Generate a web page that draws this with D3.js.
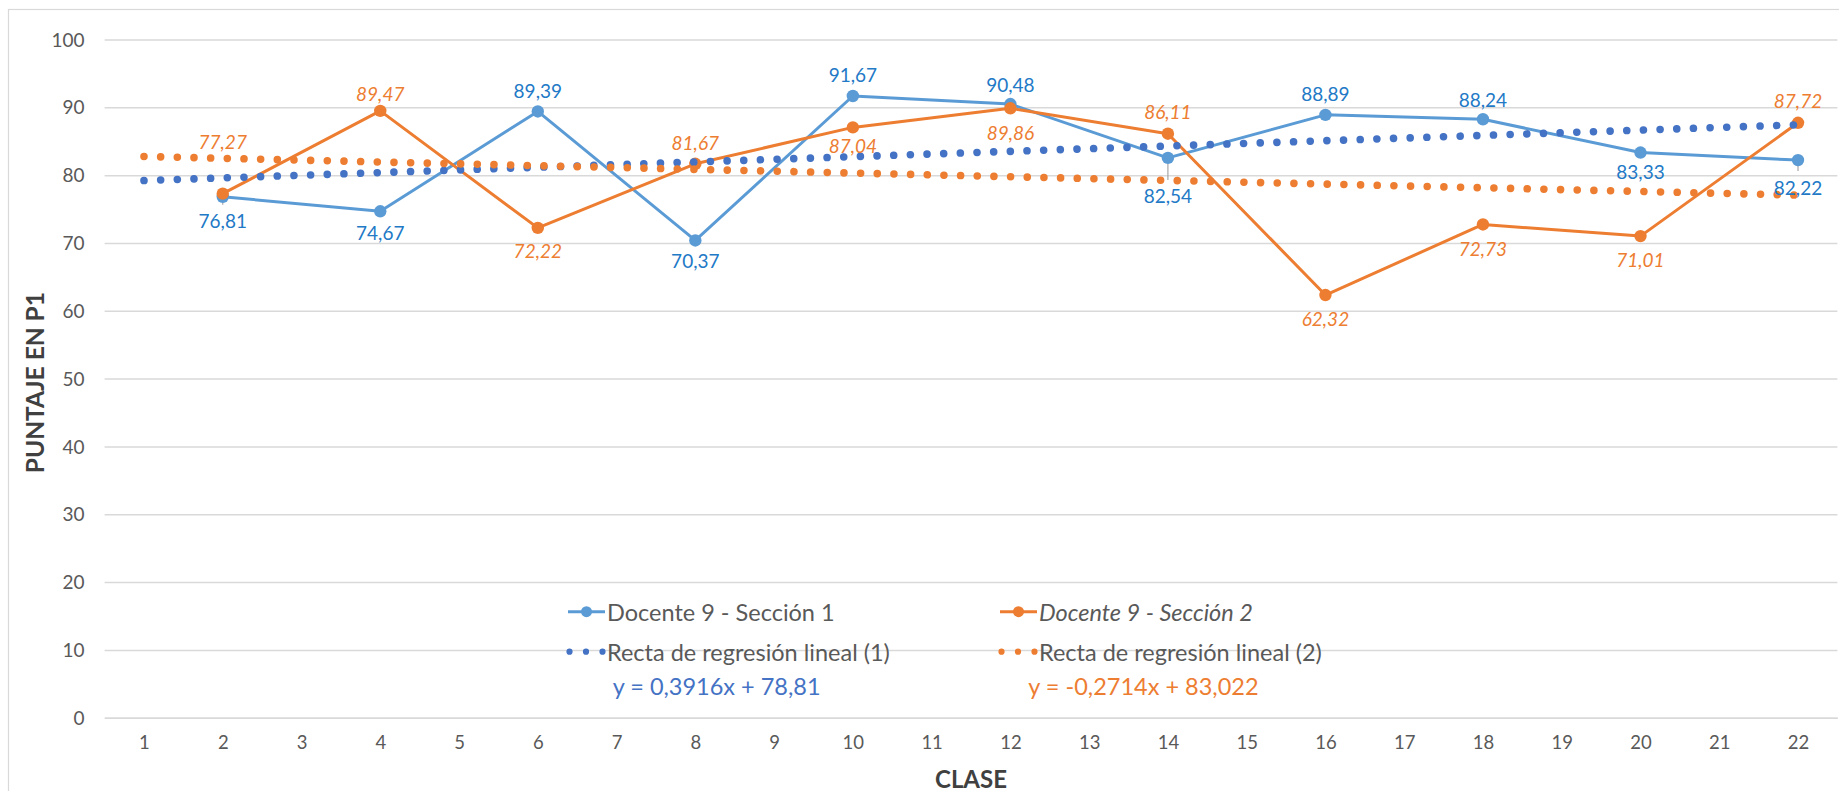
<!DOCTYPE html>
<html>
<head>
<meta charset="utf-8">
<script src="https://cdn.jsdelivr.net/npm/d3@7"></script>
<style>
  html, body { margin: 0; padding: 0; background: #fff; }
  svg { display: block; font-family: Lato, "Open Sans", sans-serif; }
</style>
</head>
<body>
<svg id="chart"></svg>
<script>
// categories (CLASE) and y ticks
const clases = d3.range(1, 23);
const yTicks = [0, 10, 20, 30, 40, 50, 60, 70, 80, 90, 100];

// series values, only even classes have data
const clasesConDato = [2, 4, 6, 8, 10, 12, 14, 16, 18, 20, 22];
const seccion1 = [76.81, 74.67, 89.39, 70.37, 91.67, 90.48, 82.54, 88.89, 88.24, 83.33, 82.22];
const seccion2 = [77.27, 89.47, 72.22, 81.67, 87.04, 89.86, 86.11, 62.32, 72.73, 71.01, 87.72];

// trend line coefficients (slope, intercept) as printed on the chart
const recta1 = [0.3916, 78.81];
const recta2 = [-0.2714, 83.022];

const nombres = ["Docente 9 - Sección 1", "Docente 9 - Sección 2",
                 "Recta de regresión lineal (1)", "Recta de regresión lineal (2)"];
const ecuaciones = ["y = 0,3916x + 78,81", "y = -0,2714x + 83,022"];

// label placement (px from point, + is below) and which labels get a leader line
const offs1 = [24, 21, -21, 20, -21, -20, 38, -21, -20, 19, 27];
const offs2 = [-52, -17, 23, -21, 18, 24, -22, 23, 24, 23, -22];
const leaders1 = [0, 6, 10];

const width = 1839;
const height = 791;
const plotL = 104.6, plotR = 1837.4, plotT = 39.5, plotB = 717.7;

const azul = "#5B9BD5", azulTxt = "#2279C6", azulRecta = "#4472C4";
const naranja = "#ED7D31";
const gris = "#D9D9D9", txt = "#595959";
const fuente = 'Lato, "Open Sans", sans-serif';

const svg = d3.select("#chart").attr("width", width).attr("height", height);

// chart area border
svg.append("rect")
   .attr("x", 8.5).attr("y", 9.5)
   .attr("width", 2000).attr("height", 1000)
   .attr("fill", "none").attr("stroke", gris).attr("stroke-width", 1.2);

const xScale = d3.scalePoint().domain(clases).range([plotL, plotR]).padding(0.5);
const yScale = d3.scaleLinear().domain([0, 100]).range([plotB, plotT]);

const fmt = v => d3.format(".2f")(v).replace(".", ",");

// gridlines + y axis
const yAxis = d3.axisLeft(yScale).tickValues(yTicks)
                .tickSize(-(plotR - plotL)).tickPadding(20);
const gy = svg.append("g")
              .attr("transform", "translate(" + plotL + ",0)")
              .call(yAxis)
              .attr("font-family", fuente);
gy.select(".domain").remove();
gy.selectAll(".tick line").attr("stroke", gris).attr("stroke-width", 1.5);
gy.selectAll(".tick text")
  .attr("fill", txt).attr("font-size", 19).attr("dy", "0.35em");

// x axis labels
const xAxis = d3.axisBottom(xScale).tickSize(0).tickPadding(20);
const gx = svg.append("g")
              .attr("transform", "translate(0," + plotB + ")")
              .call(xAxis)
              .attr("font-family", fuente);
gx.select(".domain").attr("stroke", gris).attr("stroke-width", 1.5);
gx.selectAll(".tick text").attr("fill", txt).attr("font-size", 18.5).attr("dy", "0.6em");

// axis titles
svg.append("text")
   .attr("transform", "translate(34," + ((plotT + plotB) / 2 + 4) + ") rotate(-90)")
   .attr("text-anchor", "middle").attr("dominant-baseline", "central")
   .attr("font-size", 24.5).attr("font-weight", "bold").attr("fill", "#404040")
   .text("PUNTAJE EN P1");
svg.append("text")
   .attr("x", (plotL + plotR) / 2).attr("y", 778)
   .attr("text-anchor", "middle").attr("dominant-baseline", "central")
   .attr("font-size", 24).attr("font-weight", "bold").attr("fill", "#404040")
   .text("CLASE");

const line = d3.line().x(d => xScale(d[0])).y(d => yScale(d[1]));

const drawSerie = (vals, color) => {
    const pts = clasesConDato.map((c, i) => [c, vals[i]]);
    svg.append("path").datum(pts)
       .attr("d", line).attr("fill", "none")
       .attr("stroke", color).attr("stroke-width", 3).attr("stroke-linejoin", "round");
    svg.append("g").selectAll("circle").data(pts).enter()
       .append("circle")
       .attr("cx", d => xScale(d[0])).attr("cy", d => yScale(d[1]))
       .attr("r", 6.2).attr("fill", color);
};

// leader lines sit behind the markers
leaders1.forEach(i => {
    const x = xScale(clasesConDato[i]), y = yScale(seccion1[i]);
    svg.append("line")
       .attr("x1", x).attr("x2", x).attr("y1", y).attr("y2", y + offs1[i] - 16)
       .attr("stroke", "#A6A6A6").attr("stroke-width", 1.2);
});

drawSerie(seccion1, azul);
drawSerie(seccion2, naranja);

// trend lines, round dots
const drawRecta = (coef, color) => {
    const pts = [clases[0], clases[clases.length - 1]].map(c => [c, coef[0] * c + coef[1]]);
    svg.append("path").datum(pts)
       .attr("d", line).attr("fill", "none")
       .attr("stroke", color).attr("stroke-width", 7.6)
       .attr("stroke-linecap", "round").attr("stroke-dasharray", "0.01 16.66");
};
drawRecta(recta1, azulRecta);
drawRecta(recta2, naranja);

// data labels
const drawLabels = (vals, offs, color, italic) => {
    svg.append("g").selectAll("text").data(vals).enter()
       .append("text")
       .attr("x", (d, i) => xScale(clasesConDato[i]))
       .attr("y", (d, i) => yScale(d) + offs[i])
       .attr("text-anchor", "middle").attr("dominant-baseline", "central")
       .attr("font-size", 19).attr("fill", color)
       .attr("font-style", italic ? "italic" : "normal")
       .text(d => fmt(d));
};
drawLabels(seccion1, offs1, azulTxt, false);
drawLabels(seccion2, offs2, naranja, true);

// legend
const leg = svg.append("g").attr("font-size", 23.5);
const legCols = [568, 1000];
const legRows = [611.7, 651.7];

[0, 1].forEach(k => {
    const x0 = legCols[k];
    const color = k === 0 ? azul : naranja;
    leg.append("line")
       .attr("x1", x0).attr("x2", x0 + 37).attr("y1", legRows[0]).attr("y2", legRows[0])
       .attr("stroke", color).attr("stroke-width", 3);
    leg.append("circle").attr("cx", x0 + 18.5).attr("cy", legRows[0]).attr("r", 5.5).attr("fill", color);
    leg.append("text")
       .attr("x", x0 + 39).attr("y", legRows[0]).attr("dominant-baseline", "central")
       .attr("fill", txt).attr("font-style", k === 1 ? "italic" : "normal")
       .text(nombres[k]);

    leg.append("line")
       .attr("x1", x0 + 1.5).attr("x2", x0 + 34.5).attr("y1", legRows[1]).attr("y2", legRows[1])
       .attr("stroke", k === 0 ? azulRecta : naranja).attr("stroke-width", 6.2)
       .attr("stroke-linecap", "round").attr("stroke-dasharray", "0.01 16.49");
    leg.append("text")
       .attr("x", x0 + 39).attr("y", legRows[1]).attr("dominant-baseline", "central")
       .attr("fill", txt)
       .text(nombres[k + 2]);
});

svg.append("text")
   .attr("x", 612.7).attr("y", 686).attr("dominant-baseline", "central")
   .attr("font-size", 23.5).attr("fill", azulRecta).text(ecuaciones[0]);
svg.append("text")
   .attr("x", 1028.3).attr("y", 686).attr("dominant-baseline", "central")
   .attr("font-size", 23.5).attr("fill", naranja).text(ecuaciones[1]);
</script>
</body>
</html>
